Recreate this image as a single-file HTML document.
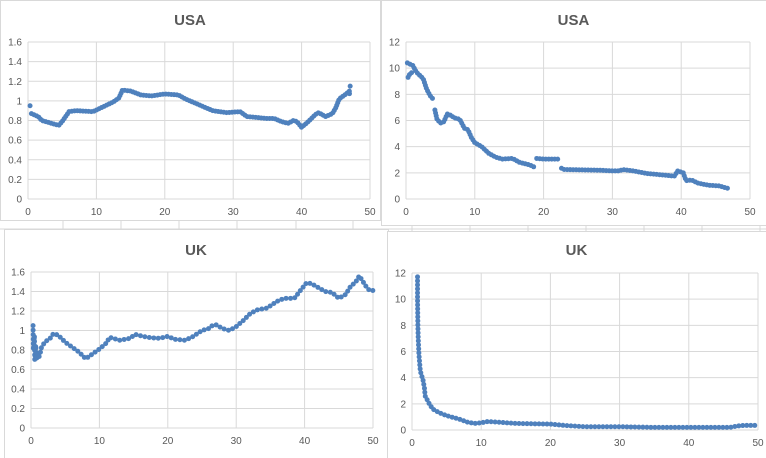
<!DOCTYPE html>
<html><head><meta charset="utf-8"><style>
html,body{margin:0;padding:0;background:#fff;}
svg{display:block;font-family:"Liberation Sans",Arial,sans-serif;}
</style></head><body>
<svg id="s" width="766" height="458" xmlns="http://www.w3.org/2000/svg"></svg>
<script>
const S=document.getElementById('s');let h='';
[63,121,179,237,296,353,412,470,528,586,644,702,760].forEach(x=>h+=`<line x1="${x}" y1="0" x2="${x}" y2="458" stroke="#d9d9d9"/>`);
[229].forEach(y=>h+=`<line x1="0" y1="${y}" x2="766" y2="${y}" stroke="#d9d9d9"/>`);
function chart(box,title,ttlY,px0,px1,py0,py1,ymax,ystep,fmt,segs,sp,r){
 const [bx,by,bw,bh]=box;
 h+=`<rect x="${bx+.5}" y="${by+.5}" width="${bw}" height="${bh}" fill="#fff" stroke="#d9d9d9"/>`;
 h+=`<text x="${bx+bw/2}" y="${ttlY}" text-anchor="middle" font-size="15" font-weight="bold" fill="#595959">${title}</text>`;
 for(let x=0;x<=50;x+=10){const X=px0+(px1-px0)*x/50;
  h+=`<line x1="${X}" y1="${py1}" x2="${X}" y2="${py0}" stroke="#d9d9d9"/>`;
  h+=`<text x="${X}" y="${py0+16}" text-anchor="middle" font-size="10" fill="#595959">${x}</text>`;}
 for(let v=0;v<=ymax+1e-9;v+=ystep){const Y=py0-(py0-py1)*v/ymax;
  h+=`<line x1="${px0}" y1="${Y}" x2="${px1}" y2="${Y}" stroke="#d9d9d9"/>`;
  h+=`<text x="${px0-6}" y="${Y+3.5}" text-anchor="end" font-size="10" fill="#595959">${fmt(v)}</text>`;}
 const T=p=>[px0+(px1-px0)*p[0]/50,py0-(py0-py1)*p[1]/ymax];
 segs.forEach(seg=>{const P=seg.map(T);
  h+=`<circle cx="${P[0][0]}" cy="${P[0][1]}" r="${r}" fill="#4f81bd"/>`;
  let acc=0;
  for(let i=1;i<P.length;i++){const dx=P[i][0]-P[i-1][0],dy=P[i][1]-P[i-1][1],L=Math.hypot(dx,dy);
   let t=sp-acc;
   while(t<=L){h+=`<circle cx="${P[i-1][0]+dx*t/L}" cy="${P[i-1][1]+dy*t/L}" r="${r}" fill="#4f81bd"/>`;t+=sp;}
   acc=L-(t-sp);}
 });
}
const f1=v=>Math.round(v*10)/10, f0=v=>Math.round(v);
chart([0,0,380,220],'USA',25,28,370,199,42,1.6,0.2,f1,[
[[0.3,0.95],[0.35,0.93]],
[[0.5,0.87],[1.5,0.84],[2,0.8],[3,0.78],[4.5,0.75],[5,0.79],[6,0.89],[7,0.9],[9.5,0.89],[11,0.94],[12.5,0.99],[13.3,1.03],[13.8,1.11],[15,1.1],[16.5,1.06],[18,1.05],[20,1.07],[22,1.06],[23,1.02],[25,0.96],[27,0.9],[29,0.88],[31,0.89],[32,0.84],[35,0.82],[36,0.82],[37,0.79],[38,0.77],[38.8,0.8],[39.3,0.79],[40,0.73],[41,0.79],[42,0.86],[42.5,0.88],[43.5,0.84],[44.5,0.87],[45,0.93],[45.5,1.02],[46.5,1.07],[47,1.1],[47,1.07]],
[[47.1,1.15],[47.1,1.15]]],2.8,2.5);
chart([381,0,385,225],'USA',25,406,750,199,42,12,2,f0,[
[[0.2,10.4],[1,10.2],[1.5,9.7],[2.5,9.2],[3,8.4],[3.5,7.9],[4,7.6]],
[[0.3,9.3],[0.6,9.6],[1,9.7]],
[[4.2,6.8],[4.5,6.1],[5,5.8],[5.5,5.9],[6,6.5],[6.5,6.4],[7,6.2],[7.8,6.1],[8.5,5.4],[9,5.3],[9.5,4.7],[10,4.3],[11,4],[12,3.5],[13,3.2],[14,3.05],[15.5,3.1],[16.5,2.8],[18,2.6],[18.8,2.4]],
[[19,3.1],[20,3.05],[22.4,3.05]],
[[22.6,2.35],[23,2.25],[28,2.2],[30,2.15],[31,2.15],[31.5,2.25],[33,2.15],[35,1.95],[37,1.85],[39,1.75],[39.5,2.15],[40.3,2.0],[40.7,1.4],[41.5,1.45],[42.5,1.2],[44,1.05],[45.5,1.0],[46.5,0.85],[47,0.78]]],3,2.5);
chart([4,229,384,235],'UK',255,31,373,428,272,1.6,0.2,f1,[
[[0.3,1.05],[0.35,0.8],[0.5,0.95],[0.55,0.7],[0.7,0.85],[0.8,0.7],[1,0.78],[1.1,0.72],[1.3,0.75],[1.5,0.82],[2,0.88],[2.8,0.92],[3.3,0.97],[4,0.95],[5,0.88],[6,0.83],[7,0.78],[8,0.71],[9,0.76],[10,0.81],[11,0.87],[11.5,0.93],[13,0.9],[14.5,0.92],[15.2,0.96],[17,0.93],[18.5,0.92],[19.5,0.93],[20,0.94],[21,0.91],[22.5,0.9],[23.5,0.93],[25,1.0],[26,1.02],[26.5,1.05],[27,1.06],[28,1.02],[29,1.0],[30,1.04],[31,1.1],[32,1.17],[33,1.21],[34.5,1.23],[36,1.3],[37,1.33],[38.5,1.33],[39.5,1.42],[40.3,1.49],[41,1.48],[43,1.4],[44,1.39],[45,1.33],[46,1.37],[46.7,1.45],[47.5,1.5],[48,1.56],[49,1.45],[49.5,1.41],[50,1.41]]],4.5,2.5);
chart([387,231,379,227],'UK',255,412,758,430,273,12,2,f0,[
[[0.8,11.7],[0.8,10],[0.85,8],[0.9,7],[1,5.8],[1.2,4.5],[1.6,3.8],[1.8,3.2],[1.9,2.6],[2.5,2],[3,1.6],[4,1.3],[5,1.1],[6,0.95],[7,0.8],[8,0.6],[9,0.5],[10,0.55],[11,0.65],[15,0.5],[20,0.45],[22,0.35],[25,0.25],[30,0.25],[35,0.2],[45,0.2],[46,0.2],[47,0.3],[48,0.35],[50,0.35]]],4,2.5);
S.innerHTML=h;
</script>
</body></html>
